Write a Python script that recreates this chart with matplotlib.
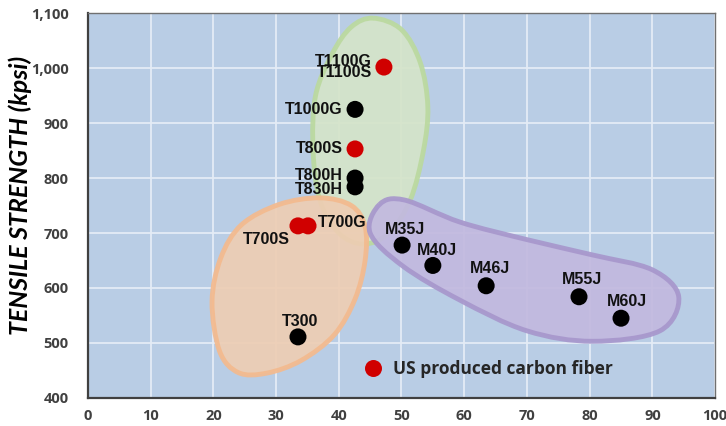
import numpy as np
import matplotlib
matplotlib.use("Agg")
import matplotlib.pyplot as plt
from matplotlib.path import Path
from matplotlib.patches import PathPatch

# ---- data ----
names = ["T1100G\nT1100S", "T1000G", "T800S", "T800H", "T830H", "T700S", "T700G",
         "T300", "M35J", "M40J", "M46J", "M55J", "M60J"]
modulus = [47.2, 42.6, 42.6, 42.6, 42.6, 33.5, 35.1, 33.5, 50.1, 55.0, 63.5, 78.3, 85.0]
strength = [1002, 925, 853, 800, 784, 713, 713, 511, 678, 641, 604, 584, 545]
us_made = [True, False, True, False, False, True, True, False, False, False, False, False, False]

xticks = list(range(0, 101, 10))
yticks = list(range(400, 1101, 100))

# region outlines (data coords)
green_x = [45.5, 50.0, 53.0, 54.2, 53.5, 51.4, 48.0, 44.0, 40.0, 37.0, 35.9, 36.3, 39.0, 42.0]
green_y = [1091, 1070, 1010, 930, 850, 760, 700, 680, 700, 760, 850, 950, 1027, 1075]
orange_x = [37.0, 42.0, 44.2, 44.2, 42.6, 39.3, 34.0, 28.5, 24.0, 21.0, 19.8, 21.2, 24.5, 30.5]
orange_y = [764, 750, 712, 650, 580, 515, 468, 445, 446, 485, 575, 655, 715, 752]
purple_x = [46.5, 50.5, 59.3, 70.0, 80.5, 90.0, 94.2, 91.2, 80.5, 70.0, 59.3, 50.2, 45.0]
purple_y = [752, 760, 720, 688, 660, 633, 584, 522, 503, 522, 578, 640, 700]

label_pos = {
    "T1100G\nT1100S": ("right", -1.9, 0),
    "T1000G": ("right", -2.0, 0),
    "T800S": ("right", -2.0, 0),
    "T800H": ("right", -2.0, 5),
    "T830H": ("right", -2.0, -4),
    "T700S": ("right", -1.3, -24),
    "T700G": ("left", 1.6, 7),
    "T300": ("center", 0.3, 28),
    "M35J": ("left", -2.7, 29),
    "M40J": ("left", -2.5, 28),
    "M46J": ("left", -2.6, 32),
    "M55J": ("left", -2.7, 31),
    "M60J": ("left", -2.2, 30),
}


def smooth_closed(xs, ys):
    # closed Catmull-Rom curve, computed in an aspect-corrected space
    k = (385 / 627) * 100 / 700.0
    p = np.column_stack([xs, np.asarray(ys, float) * k])
    n = len(p)
    verts = [p[0]]
    codes = [Path.MOVETO]
    for i in range(n):
        p0, p1, p2, p3 = p[i - 1], p[i], p[(i + 1) % n], p[(i + 2) % n]
        verts += [p1 + (p2 - p0) / 6.0, p2 - (p3 - p1) / 6.0, p2]
        codes += [Path.CURVE4] * 3
    v = np.array(verts)
    v[:, 1] = v[:, 1] / k
    return Path(v, codes)


fig = plt.figure(figsize=(7.26, 4.26), dpi=100)
ax = fig.add_axes([0.121, 0.066, 0.864, 0.903])
ax.set_facecolor("#B9CDE5")
ax.set_xlim(0, 100)
ax.set_ylim(400, 1100)
ax.set_xticks(xticks)
ax.set_yticks(yticks)
ax.grid(True, color="#E4ECF6", linewidth=1.3)
ax.set_axisbelow(True)

for xs, ys, fc, ec in [(green_x, green_y, "#D5E4C9", "#BBD99F"),
                       (orange_x, orange_y, "#EECDB3", "#F3BA8E"),
                       (purple_x, purple_y, "#C2B9DF", "#A797CC")]:
    ax.add_patch(PathPatch(smooth_closed(xs, ys), facecolor=fc, edgecolor=ec,
                           linewidth=3.5, alpha=0.92, zorder=1))

cols = ["#D00000" if u else "black" for u in us_made]
ax.scatter(modulus, strength, s=150, c=cols, zorder=3, linewidths=0)

for n, x, y in zip(names, modulus, strength):
    ha, dx, dy = label_pos[n]
    ax.text(x + dx, y + dy, n, ha=ha, va="center", fontsize=11.5,
            fontweight="bold", family="Liberation Sans", color="#111111",
            linespacing=0.72, zorder=4)

ax.scatter([45.4], [454], s=150, c="#D00000", zorder=3, linewidths=0)
ax.text(48.6, 452, "US produced carbon fiber", ha="left", va="center",
        fontsize=12.5, fontweight="bold", family="Open Sans", color="#262626", zorder=4)

ax.set_xticklabels([str(t) for t in xticks])
ax.set_yticklabels([f"{t:,}" for t in yticks])
for lab in ax.get_xticklabels() + ax.get_yticklabels():
    lab.set_fontfamily("Open Sans")
    lab.set_fontweight("bold")
    lab.set_fontsize(10.5)
    lab.set_color("#404040")
ax.tick_params(axis="y", length=0, pad=14)
ax.tick_params(axis="x", length=0, pad=8)

ax.set_ylabel("TENSILE STRENGTH (kpsi)", fontsize=18, fontweight="bold",
              fontstyle="italic", family="Lato", color="black", va="center")
ax.yaxis.set_label_coords(-0.108, 0.525)

for side in ["left", "bottom"]:
    ax.spines[side].set_color("#404040")
    ax.spines[side].set_linewidth(1.6)
for side in ["top", "right"]:
    ax.spines[side].set_color("#707070")
    ax.spines[side].set_linewidth(1.0)

fig.savefig("out.png", dpi=100)
